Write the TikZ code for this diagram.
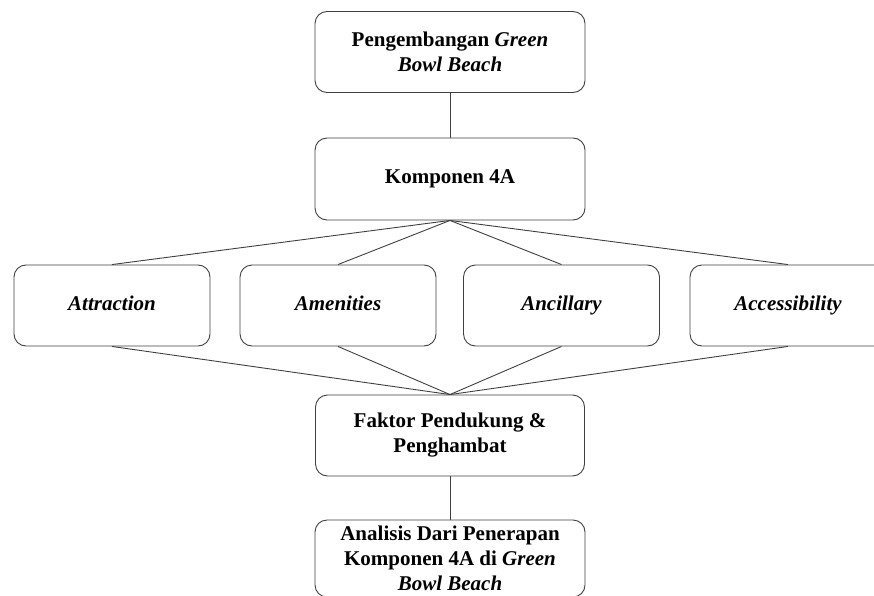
\documentclass[tikz,border=0pt]{standalone}
\usepackage{fontspec}
\setmainfont{Liberation Serif}
\usepackage{tikz}

\tikzset{
    stage/.style={draw=black!75, line width=0.9pt, rectangle, rounded corners=12pt, fill=white,
        minimum width=270pt, minimum height=81pt, align=center, inner sep=2pt,
        font=\fontsize{21}{25}\selectfont\bfseries},
    aspect/.style={stage, minimum width=196pt, text height=14pt, text depth=5pt,
        font=\fontsize{21}{25}\selectfont\bfseries\itshape},
    link/.style={draw=black!75, line width=0.9pt}
}

\begin{document}
\begin{tikzpicture}[x=1pt, y=1pt, node distance=127pt]
    \useasboundingbox (0,0) rectangle (874,-596);

    % Development
    \node[stage] (develop) at (450,-52) {Pengembangan \textit{Green}\\ \textit{Bowl Beach}};

    % 4A components
    \node[stage, below of=develop, minimum height=82pt] (component) {Komponen 4A};

    % The four A
    \node[aspect] (attraction) at (112,-305.5) {Attraction};
    \node[aspect] (amenities) at (338,-305.5) {Amenities};
    \node[aspect] (ancillary) at (561.5,-305.5) {Ancillary};
    \node[aspect] (accessibility) at (788,-305.5) {Accessibility};

    % Factors
    \node[stage, minimum width=269pt] (factor) at (450,-435.5) {Faktor Pendukung \&\\ Penghambat};

    % Analysis
    \node[stage, below of=factor, node distance=123pt, minimum height=77pt, inner sep=0pt] (analysis) {Analisis Dari Penerapan\\ Komponen 4A di \textit{Green}\\ \textit{Bowl Beach}};

    % Edges
    \draw[link] (develop) -- (component);
    \foreach \aspectname in {attraction, amenities, ancillary, accessibility} {
        \draw[link] (component.south) -- (\aspectname.north);
        \draw[link] (\aspectname.south) -- (factor.north);
    }
    \draw[link] (factor) -- (analysis);
\end{tikzpicture}
\end{document}
